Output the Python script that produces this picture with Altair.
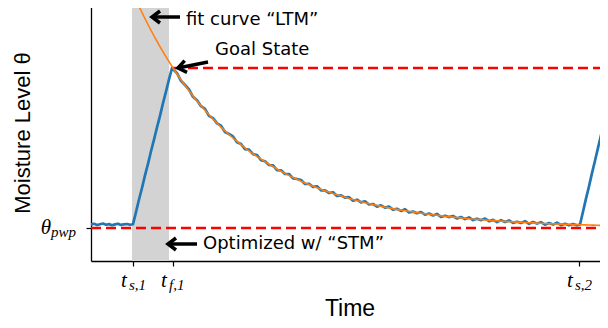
import altair as alt
import pandas as pd

# ---- data (time units 0..517, moisture units measured up from the time axis) ----
tick_times = [42, 82, 488]
tick_subs = ["s,1", "f,1", "s,2"]
theta_pwp = 33
goal_state = 193
band_start, band_end = 41, 78

blue_t = ([0, 3, 6, 9, 12, 15, 18, 21, 24, 27, 30, 33, 36, 39, 42]
          + [45, 48, 51, 54, 57, 60, 63, 66, 69, 72, 75, 78, 81]
          + list(range(86, 487, 4))
          + [489, 492, 495, 498, 501, 504, 507, 510, 513, 516, 519])
blue_v = ([36.5, 37.2, 36.0, 36.8, 37.5, 36.3, 36.9, 35.8, 36.6, 37.3, 36.1, 36.7, 37.0, 36.2, 36.8]
          + [48.8, 61.5, 73.0, 85.6, 97.2, 109.8, 121.3, 133.6, 145.2, 157.9, 169.4, 181.6, 193.0]
          + [187.8, 180.2, 176.0, 171.5, 164.2, 160.7, 154.8, 152.2, 145.1, 142.9,
             137.6, 135.3, 129.0, 127.0, 124.6, 118.8, 117.0, 111.9, 111.3, 106.8,
             106.0, 100.8, 99.8, 96.0, 95.6, 90.8, 90.7, 87.1, 87.0, 82.7,
             82.0, 81.0, 77.0, 77.2, 74.1, 74.7, 70.7, 70.6, 68.0, 68.8,
             65.0, 65.6, 63.3, 63.8, 60.3, 61.3, 58.6, 59.7, 56.5, 57.0,
             54.4, 55.7, 53.4, 54.4, 51.4, 52.2, 50.1, 51.8, 48.5, 49.4,
             47.8, 49.0, 46.3, 47.5, 45.5, 47.1, 44.0, 45.3, 43.9, 45.0,
             42.5, 44.0, 41.9, 43.6, 40.9, 42.3, 40.8, 42.5, 39.8, 41.1,
             38.9, 40.9, 39.0, 40.6, 38.1, 39.3, 38.0, 39.8, 37.2, 38.9,
             37.4, 38.8, 36.3, 37.9, 36.4, 38.4, 35.9, 37.2, 35.7, 37.1,
             35.7]
          + [36.5, 49.2, 62.4, 74.6, 87.9, 100.3, 113.1, 125.8, 138.0, 151.2, 163.5])

orange_t = list(range(42, 515, 8)) + [518]
orange_v = [267.9, 250.5, 234.5, 219.6, 205.8, 193.0, 181.2, 170.2, 160.1, 150.7,
            142.0, 133.9, 126.5, 119.6, 113.2, 107.2, 101.8, 96.7, 92.0, 87.6,
            83.6, 79.8, 76.4, 73.2, 70.2, 67.5, 64.9, 62.6, 60.4, 58.3,
            56.5, 54.7, 53.1, 51.6, 50.3, 49.0, 47.8, 46.7, 45.7, 44.8,
            43.9, 43.1, 42.3, 41.7, 41.0, 40.4, 39.9, 39.4, 38.9, 38.5,
            38.1, 37.7, 37.3, 37.0, 36.7, 36.4, 36.2, 36.0, 35.7, 35.5, 35.5]

ann_text = ["fit curve \u201cLTM\u201d", "Goal State", "Optimized w/ \u201cSTM\u201d"]
ann_t = [95, 124, 112]
ann_v = [241, 211, 17]

arrow_head_t = [61, 87, 77]
arrow_head_v = [244, 193, 17]
arrow_tail_t = [89, 117, 106]
arrow_tail_v = [244, 199, 17]
arrow_angle = [0, 348.7, 0]

W = 517
SANS = "Liberation Sans"
ANN_FONT = "DejaVu Sans"
SERIF = "Liberation Serif"


def build(H, top_pad, right_pad):
    blue_df = pd.DataFrame({"t": blue_t, "v": blue_v})
    orange_df = pd.DataFrame({"t": orange_t, "v": orange_v})
    band_df = pd.DataFrame({"t0": [band_start], "t1": [band_end], "v0": [0], "v1": [H]})
    red_df = pd.DataFrame({"t0": [0, 82], "t1": [W, W], "v": [theta_pwp, goal_state]})
    tick_df = pd.DataFrame({"t": tick_times, "main": ["t"] * 3, "sub": tick_subs})
    theta_df = pd.DataFrame({"v": [theta_pwp], "main": ["\u03b8"], "sub": ["pwp"]})
    ann_df = pd.DataFrame({"text": ann_text, "t": ann_t, "v": ann_v})
    arr_df = pd.DataFrame({"th": arrow_head_t, "vh": arrow_head_v,
                           "tt": arrow_tail_t, "vt": arrow_tail_v, "ang": arrow_angle})

    xs = alt.Scale(domain=[0, W], nice=False, zero=False)
    ys = alt.Scale(domain=[0, H], nice=False, zero=False)

    xaxis = alt.Axis(values=tick_times, labels=False, tickSize=5, tickColor="black", tickWidth=1.2,
                     domainColor="black", domainWidth=1.3, grid=False, title="Time",
                     titleFont=SANS, titleFontSize=23, titleFontWeight="normal",
                     titleColor="black", titlePadding=31)
    yaxis = alt.Axis(values=[theta_pwp], labels=False, tickSize=5, tickColor="black", tickWidth=1.2,
                     domainColor="black", domainWidth=1.3, grid=False, title="Moisture Level \u03b8",
                     titleFont=SANS, titleFontSize=22, titleFontWeight="normal",
                     titleColor="black", titlePadding=51)

    def X(f):
        return alt.X(f, type="quantitative", scale=xs, axis=xaxis)

    def Y(f):
        return alt.Y(f, type="quantitative", scale=ys, axis=yaxis)

    band = alt.Chart(band_df).mark_rect(color="#d3d3d3").encode(
        x=X("t0"), x2="t1", y=Y("v0"), y2="v1")

    red = alt.Chart(red_df).mark_rule(color="#ff0000", strokeWidth=2.6, strokeDash=[10, 5]).encode(
        x=X("t0"), x2="t1", y=Y("v"))

    blue = alt.Chart(blue_df).mark_line(color="#1f77b4", strokeWidth=2.7, clip=True,
                                        strokeJoin="round").encode(
        x=X("t"), y=Y("v"), order="t:Q")

    orange = alt.Chart(orange_df).mark_line(color="#ff7f0e", strokeWidth=1.6, clip=True,
                                            interpolate="monotone").encode(
        x=X("t"), y=Y("v"), order="t:Q")

    shafts = alt.Chart(arr_df).mark_rule(color="black", strokeWidth=3.5, strokeCap="butt").encode(
        x=X("th"), x2="tt", y=Y("vh"), y2="vt")

    heads = alt.Chart(arr_df).mark_point(shape="M1,-0.75L0,0L1,0.75", filled=False, color="black",
                                         strokeWidth=3.5, size=256, opacity=1).encode(
        x=X("th"), y=Y("vh"), angle=alt.Angle("ang:Q", scale=None))

    ann = alt.Chart(ann_df).mark_text(font=ANN_FONT, fontSize=18, align="left",
                                      baseline="middle", color="black").encode(
        x=X("t"), y=Y("v"), text="text:N")

    tmain = alt.Chart(tick_df).mark_text(font=SERIF, fontStyle="italic", fontSize=21,
                                         align="center", baseline="alphabetic", dx=-9,
                                         color="black").encode(
        x=X("t"), y=alt.value(H + 26), text="main:N")
    tsub = alt.Chart(tick_df).mark_text(font=SERIF, fontStyle="italic", fontSize=15,
                                        align="left", baseline="alphabetic", dx=-4,
                                        color="black").encode(
        x=X("t"), y=alt.value(H + 29), text="sub:N")

    thmain = alt.Chart(theta_df).mark_text(font=SERIF, fontStyle="italic", fontSize=21,
                                           align="center", baseline="alphabetic", dy=6,
                                           color="black").encode(
        x=alt.value(-45), y=Y("v"), text="main:N")
    thsub = alt.Chart(theta_df).mark_text(font=SERIF, fontStyle="italic", fontSize=15,
                                          align="left", baseline="alphabetic", dy=9,
                                          color="black").encode(
        x=alt.value(-40), y=Y("v"), text="sub:N")

    return alt.layer(band, red, blue, orange, shafts, heads, ann, tmain, tsub, thmain, thsub).properties(
        width=W, height=H,
        autosize=alt.AutoSizeParams(type="none"),
        padding={"left": 83, "top": top_pad, "right": right_pad, "bottom": 59},
    ).configure_view(stroke=None)


try:
    chart = build(257, -4, -8)
    chart.save("out.html", embed_options={"renderer": "svg", "actions": False})
except Exception:
    chart = build(253, 0, 0)
    chart.save("out.html", embed_options={"renderer": "svg", "actions": False})
